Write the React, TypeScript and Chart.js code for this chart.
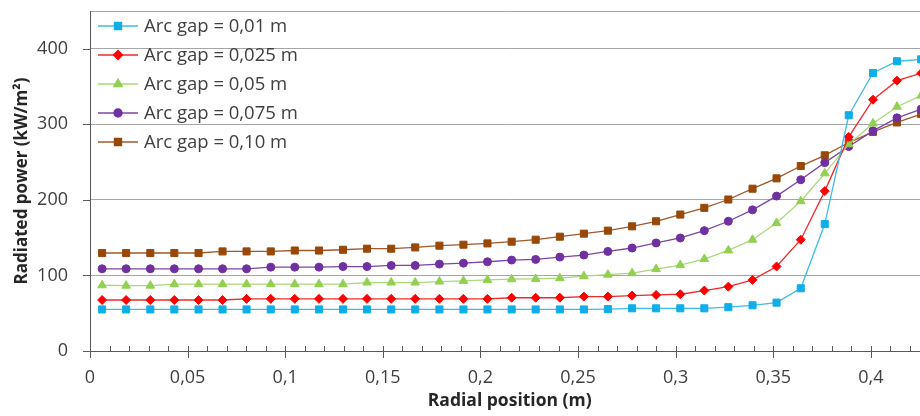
import React, { useEffect, useRef } from 'react';
import { Chart, registerables } from 'chart.js';
import { drawPoint } from 'chart.js/helpers';

Chart.register(...registerables);

// Radial position (m)
const radialPosition = [
  0.0062, 0.0185, 0.0309, 0.0432, 0.0556, 0.0679, 0.0802, 0.0926, 0.1049, 0.1173,
  0.1296, 0.1419, 0.1543, 0.1666, 0.179, 0.1913, 0.2036, 0.216, 0.2283, 0.2407,
  0.253, 0.2653, 0.2777, 0.29, 0.3024, 0.3147, 0.327, 0.3394, 0.3517, 0.3641,
  0.3764, 0.3887, 0.4011, 0.4134, 0.4258,
];

// Radiated power (kW/m²)
const gap001 = [
  55, 55, 55, 55, 55, 55, 55, 55, 55, 55,
  55, 55, 55, 55, 55, 55, 55, 55, 55, 55,
  55, 55.5, 56.5, 56.5, 56.5, 56.5, 58, 60.5, 64, 83,
  168, 312, 368, 383.5, 386,
];
const gap0025 = [
  67.5, 67.5, 67.5, 67.5, 67.5, 67.5, 69, 69, 69, 69,
  69, 69, 69, 69, 69, 69, 69, 70.5, 70.5, 70.5,
  72, 72, 73.3, 74.2, 75.1, 80, 85.2, 94.1, 111.8, 147.3,
  211.6, 283.4, 332.6, 357.8, 367.7,
];
const gap005 = [
  87, 86.5, 86.5, 88.5, 88.5, 88.5, 88.5, 88.5, 88.5, 88.5,
  88.5, 90.6, 90.6, 90.6, 91.9, 92.8, 94.1, 95, 95.4, 96.4,
  99, 101, 103, 108.4, 113.7, 121.7, 133.1, 147.3, 169.5, 198.3,
  235.1, 273.7, 301.2, 323.3, 338,
];
const gap0075 = [
  108.8, 108.8, 108.8, 108.8, 108.8, 108.8, 108.8, 111, 111, 111,
  111.8, 111.8, 113.2, 113.2, 115, 116.3, 118.1, 120.3, 121.2, 124.3,
  127, 131.8, 136.3, 143, 149.6, 159.3, 171.7, 186.8, 205, 226.7,
  249.3, 270.6, 291.4, 308.6, 320.2,
];
const gap010 = [
  129.7, 129.7, 129.7, 129.7, 129.7, 131.8, 131.8, 131.8, 133, 133,
  134, 135.4, 135.4, 137.1, 139.4, 140.7, 142.4, 144.7, 147.3, 151.3,
  155.3, 159.3, 165, 171.7, 180.6, 189.5, 200.5, 214.8, 228.5, 244.8,
  259, 275.9, 290, 302.5, 313.6,
];

const seriesLabels = [
  'Arc gap = 0,01 m',
  'Arc gap = 0,025 m',
  'Arc gap = 0,05 m',
  'Arc gap = 0,075 m',
  'Arc gap = 0,10 m',
];

const xTickValues = [0, 0.05, 0.1, 0.15, 0.2, 0.25, 0.3, 0.35, 0.4];
const xTickLabels = ['0', '0,05', '0,1', '0,15', '0,2', '0,25', '0,3', '0,35', '0,4'];
const yTickValues = [0, 100, 200, 300, 400];
const yTickLabels = ['0', '100', '200', '300', '400'];

const X_MAX = 0.43;
const Y_MAX = 450;
const MINOR_STEP = 0.01;

const FONT = "'Open Sans', 'Liberation Sans', sans-serif";
const AXIS_COLOR = '#595959';
const GRID_COLOR = '#a6a6a6';

const tickMarksPlugin = {
  id: 'tickMarks',
  afterDatasetsDraw(chart: any) {
    const { ctx } = chart;
    const xs = chart.scales.x;
    const ys = chart.scales.y;
    const axisY = ys.getPixelForValue(0);
    const axisX = xs.getPixelForValue(0);
    ctx.save();
    ctx.strokeStyle = AXIS_COLOR;
    ctx.lineWidth = 1;
    ctx.beginPath();
    const n = Math.round(X_MAX / MINOR_STEP);
    for (let i = 0; i <= n; i++) {
      const v = i * MINOR_STEP;
      const px = Math.round(xs.getPixelForValue(v)) + 0.5;
      const major = xTickValues.some((t) => Math.abs(t - v) < 1e-9);
      ctx.moveTo(px, axisY - 5);
      ctx.lineTo(px, axisY + (major ? 7 : 0));
    }
    yTickValues.forEach((v) => {
      const py = Math.round(ys.getPixelForValue(v)) + 0.5;
      ctx.moveTo(axisX - 7, py);
      ctx.lineTo(axisX, py);
    });
    ctx.stroke();
    ctx.restore();
  },
};

const insideLegendPlugin = {
  id: 'insideLegend',
  afterDatasetsDraw(chart: any) {
    const { ctx, chartArea } = chart;
    ctx.save();
    chart.data.datasets.forEach((ds: any, i: number) => {
      const y = chartArea.top + 15 + i * 29;
      const x0 = chartArea.left + 8;
      ctx.strokeStyle = ds.borderColor;
      ctx.lineWidth = ds.borderWidth;
      ctx.beginPath();
      ctx.moveTo(x0, y);
      ctx.lineTo(x0 + 40, y);
      ctx.stroke();
      ctx.fillStyle = ds.pointBackgroundColor;
      ctx.strokeStyle = ds.pointBorderColor;
      drawPoint(ctx, { pointStyle: ds.pointStyle, radius: ds.pointRadius, borderWidth: 1, rotation: 0 } as any, x0 + 20, y);
      ctx.fillStyle = '#404040';
      ctx.font = `18.5px ${FONT}`;
      ctx.textBaseline = 'middle';
      ctx.textAlign = 'left';
      ctx.fillText(ds.label, x0 + 46, y + 1);
    });
    ctx.restore();
  },
};

function makeDataset(label: string, values: number[], color: string, lineColor: string, style: string, radius: number) {
  return {
    label,
    data: values.map((v, i) => ({ x: radialPosition[i], y: v })),
    borderColor: lineColor,
    borderWidth: 1.3,
    backgroundColor: color,
    pointBackgroundColor: color,
    pointBorderColor: color,
    pointBorderWidth: 1,
    pointStyle: style,
    pointRadius: radius,
    pointHoverRadius: radius,
    showLine: true,
    tension: 0,
    clip: false as any,
  };
}

export default function App() {
  const ref = useRef<HTMLCanvasElement | null>(null);

  useEffect(() => {
    if (!ref.current) return;
    const chart = new Chart(ref.current, {
      type: 'scatter',
      data: {
        datasets: [
          makeDataset(seriesLabels[0], gap001, '#10aee8', '#3fbbe8', 'rect', 5),
          makeDataset(seriesLabels[1], gap0025, '#ff0000', '#f02a2a', 'rectRot', 4.5),
          makeDataset(seriesLabels[2], gap005, '#92d050', '#a9d87a', 'triangle', 5),
          makeDataset(seriesLabels[3], gap0075, '#7030a0', '#7d44a8', 'circle', 4),
          makeDataset(seriesLabels[4], gap010, '#984807', '#a0582a', 'rect', 5),
        ],
      },
      plugins: [tickMarksPlugin, insideLegendPlugin],
      options: {
        animation: false,
        responsive: false,
        events: [],
        layout: { padding: { top: 11, right: 10.6, bottom: 0, left: 0 } },
        plugins: {
          legend: { display: false },
          tooltip: { enabled: false },
        },
        scales: {
          x: {
            type: 'linear',
            min: 0,
            max: X_MAX,
            afterBuildTicks: (s: any) => { s.ticks = xTickValues.map((v) => ({ value: v })); },
            afterFit: (s: any) => { s.height = 65; },
            border: { display: true, color: AXIS_COLOR, width: 1 },
            grid: { display: false },
            ticks: {
              autoSkip: false,
              maxRotation: 0,
              padding: 8,
              color: '#404040',
              font: { family: FONT, size: 18 },
              callback: (v: any) => {
                const idx = xTickValues.findIndex((t) => Math.abs(t - Number(v)) < 1e-9);
                return idx >= 0 ? xTickLabels[idx] : '';
              },
            },
            title: {
              display: true,
              text: 'Radial position (m)',
              color: '#262626',
              font: { family: FONT, size: 17.5, weight: 'bold' },
              padding: { top: 0, bottom: 4 },
            },
          },
          y: {
            type: 'linear',
            min: 0,
            max: Y_MAX,
            afterBuildTicks: (s: any) => { s.ticks = [...yTickValues, Y_MAX].map((v) => ({ value: v })); },
            afterFit: (s: any) => { s.width = 90; },
            border: { display: true, color: AXIS_COLOR, width: 1 },
            grid: {
              drawTicks: true,
              tickLength: 22,
              tickColor: 'rgba(0,0,0,0)',
              lineWidth: 1,
              color: (c: any) => {
                const v = c.tick ? c.tick.value : 0;
                if (v === 0) return 'rgba(0,0,0,0)';
                return GRID_COLOR;
              },
            },
            ticks: {
              autoSkip: false,
              padding: 0,
              color: '#404040',
              font: { family: FONT, size: 18 },
              callback: (v: any) => {
                const idx = yTickValues.indexOf(Number(v));
                return idx >= 0 ? yTickLabels[idx] : '';
              },
            },
            title: {
              display: true,
              text: 'Radiated power (kW/m²)',
              color: '#262626',
              font: { family: FONT, size: 17, weight: 'bold' },
              padding: { top: 12, bottom: 0 },
            },
          },
        },
      },
    });
    return () => chart.destroy();
  }, []);

  return (
    <div style={{ position: 'fixed', left: 0, top: 0, width: 920, height: 416, overflow: 'hidden', background: '#fff' }}>
      <canvas ref={ref} width={940} height={416} style={{ width: 940, height: 416, display: 'block' }} />
    </div>
  );
}
